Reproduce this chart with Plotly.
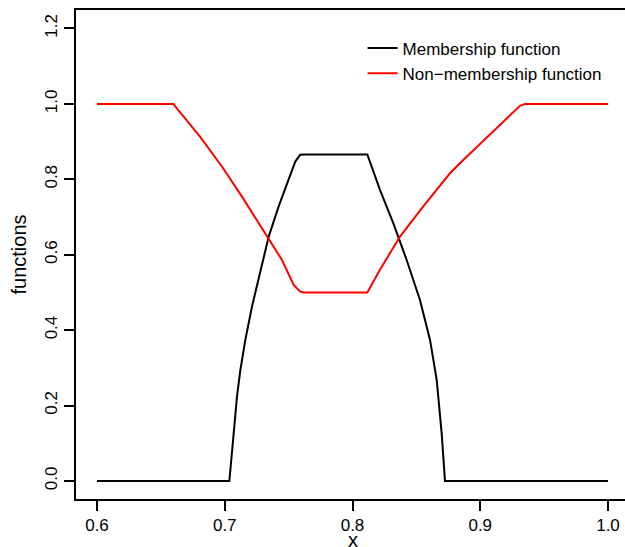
import plotly.graph_objects as go

# Membership function
mem_x = [0.600, 0.7036, 0.7070, 0.7096, 0.7122, 0.7161, 0.7213, 0.7278, 0.7344,
         0.7422, 0.7500, 0.7552, 0.7591, 0.7620, 0.8116, 0.8215, 0.8320, 0.8424,
         0.8528, 0.8607, 0.8659, 0.8698, 0.8724, 1.000]
mem_y = [0.0, 0.0, 0.126, 0.224, 0.294, 0.374, 0.462, 0.551, 0.648,
         0.728, 0.798, 0.847, 0.865, 0.866, 0.866, 0.772, 0.683, 0.586,
         0.480, 0.374, 0.268, 0.126, 0.0, 0.0]

# Non-membership function
non_x = [0.600, 0.6597, 0.6806, 0.6978, 0.7135, 0.7318, 0.7448, 0.7540, 0.7591,
         0.7620, 0.8116, 0.8215, 0.8372, 0.8554, 0.8763, 0.8867, 0.9102, 0.9311,
         0.9350, 1.000]
non_y = [1.0, 1.0, 0.913, 0.834, 0.754, 0.657, 0.586, 0.520, 0.502,
         0.5, 0.5, 0.560, 0.648, 0.728, 0.816, 0.851, 0.927, 0.995,
         1.0, 1.0]

x_ticks = [0.6, 0.7, 0.8, 0.9, 1.0]
x_tick_labels = ["0.6", "0.7", "0.8", "0.9", "1.0"]
y_ticks = [0.0, 0.2, 0.4, 0.6, 0.8, 1.0, 1.2]
y_tick_labels = ["0.0", "0.2", "0.4", "0.6", "0.8", "1.0", "1.2"]
x_title = "x"
y_title = "functions"

FONT = "Liberation Sans, Arial, Helvetica, sans-serif"

fig = go.Figure()
fig.add_trace(go.Scatter(x=mem_x, y=mem_y, mode="lines", name="Membership function",
                         line=dict(color="black", width=2)))
fig.add_trace(go.Scatter(x=non_x, y=non_y, mode="lines", name="Non\u2212membership function",
                         line=dict(color="#ff0000", width=2)))

fig.update_layout(
    width=625, height=547,
    margin=dict(l=76, r=0, t=10, b=48, autoexpand=False),
    paper_bgcolor="white", plot_bgcolor="white",
    font=dict(family=FONT, size=17, color="black"),
    showlegend=True,
    legend=dict(x=0.522, y=0.958, xanchor="left", yanchor="top",
                bgcolor="rgba(0,0,0,0)", borderwidth=0,
                font=dict(size=17, family=FONT), tracegroupgap=0),
    annotations=[dict(text=x_title, xref="x", yref="paper", x=0.8, y=0,
                      xanchor="center", yanchor="middle", yshift=-41,
                      showarrow=False, font=dict(size=20, family=FONT, color="black"))],
)
fig.update_xaxes(
    range=[0.58356, 1.01331], showgrid=False, zeroline=False, automargin=False,
    showline=True, linecolor="black", linewidth=2, mirror=True,
    ticks="outside", ticklen=10, tickwidth=1.5, tickcolor="black",
    tickvals=x_ticks, ticktext=x_tick_labels, tickfont=dict(size=17),
)
fig.update_yaxes(
    range=[-0.048, 1.249], showgrid=False, zeroline=False, automargin=False,
    showline=True, linecolor="black", linewidth=2, mirror=False,
    ticks="outside", ticklen=10, tickwidth=1.5, tickcolor="black",
    tickvals=y_ticks, ticktext=y_tick_labels, tickangle=-90, tickfont=dict(size=17),
    title=dict(text=y_title, standoff=10, font=dict(size=20)),
)

fig.write_html("out.html")
